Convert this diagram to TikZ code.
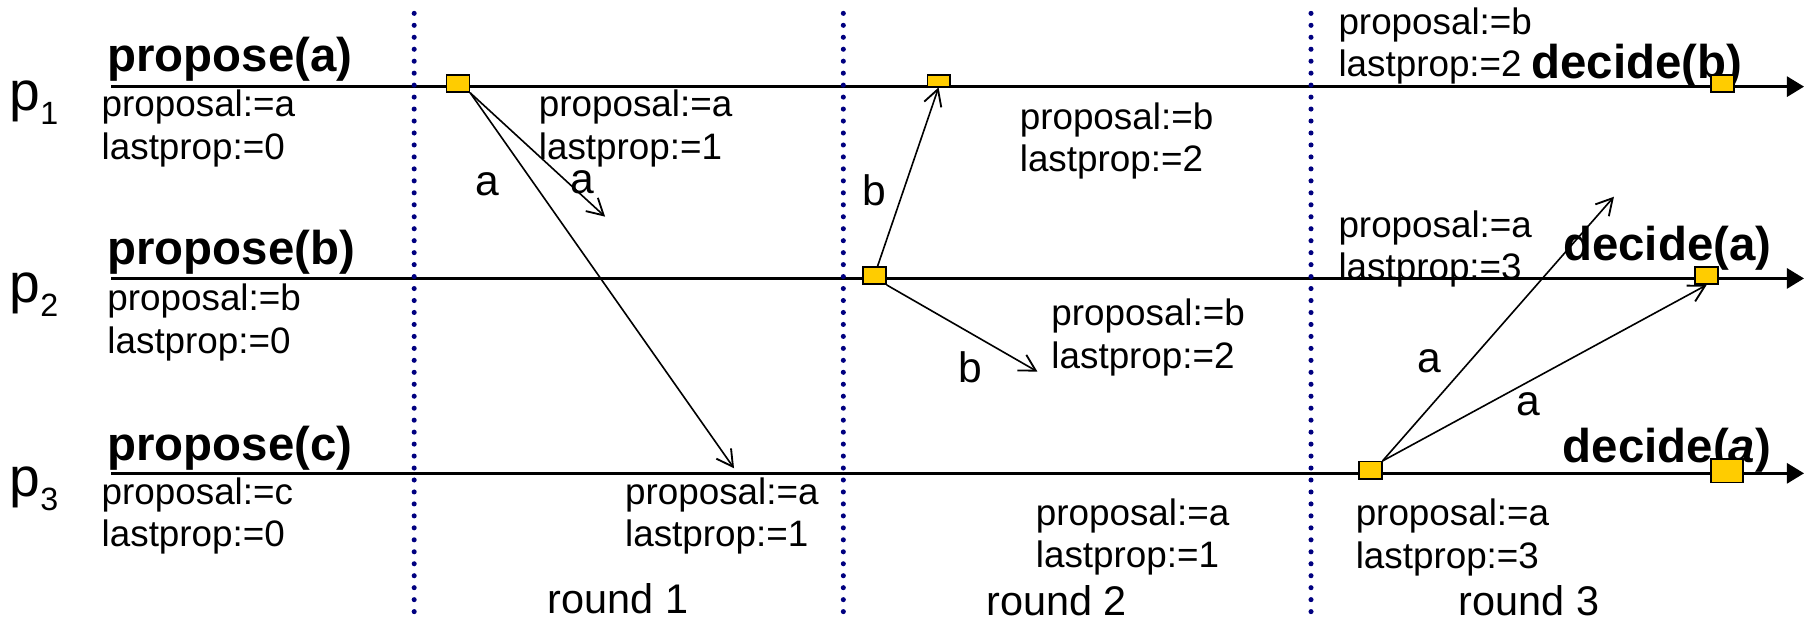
\documentclass[tikz,border=0pt]{standalone}
\usepackage{fontspec}
\setmainfont{Liberation Sans}
\usetikzlibrary{arrows.meta}
\definecolor{evtyellow}{HTML}{FFCC00}
\definecolor{sepblue}{HTML}{000080}
\begin{document}
\begin{tikzpicture}[x=0.5pt,y=-0.5pt,
  timeline/.style={line width=1.15pt,-{Triangle[length=7.4pt,width=8.7pt]}},
  roundsep/.style={sepblue,line width=2.2pt,line cap=round,dash pattern=on 0pt off 5.2pt},
  msg/.style={line width=0.7pt,-{Straight Barb[length=7pt,width=7.8pt,line width=0.8pt]}},
  evt/.style={draw=black,fill=evtyellow,line width=0.65pt,inner sep=0pt,minimum width=10pt,minimum height=7.5pt},
  state/.style={font=\fontsize{16}{18.4}\selectfont,align=left,inner sep=0pt,anchor=north west},
  act/.style={font=\fontsize{20.6}{24}\selectfont\bfseries,inner sep=0pt,anchor=base west},
  msglbl/.style={font=\fontsize{18.5}{20}\selectfont,inner sep=0pt},
  roundlbl/.style={font=\fontsize{18}{20}\selectfont,inner sep=0pt,anchor=base west},
  proclbl/.style={font=\fontsize{24}{24}\selectfont,inner sep=0pt,anchor=base west}]
\useasboundingbox (0,0) rectangle (1568,541);

% process timelines
\coordinate (s1) at (96.5,75.3);  \coordinate (t1) at (1568,75.3);
\coordinate (s2) at (96.5,242);   \coordinate (t2) at (1568,242);
\coordinate (s3) at (96.5,411.4); \coordinate (t3) at (1568,411.4);
\draw[timeline] (s1) -- (t1);
\draw[timeline] (s2) -- (t2);
\draw[timeline] (s3) -- (t3);

% round separators
\coordinate (r1a) at (360,11.6);    \coordinate (r1b) at (360,541);
\coordinate (r2a) at (733,11.6);    \coordinate (r2b) at (733,541);
\coordinate (r3a) at (1139.5,11.6); \coordinate (r3b) at (1139.5,541);
\draw[roundsep] (r1a) -- (r1b);
\draw[roundsep] (r2a) -- (r2b);
\draw[roundsep] (r3a) -- (r3b);

% process names
\node[proclbl] (p1) at (8,96) {p\raisebox{-6pt}{\fontsize{14}{14}\selectfont 1}};
\node[proclbl] (p2) at (8,263) {p\raisebox{-6pt}{\fontsize{14}{14}\selectfont 2}};
\node[proclbl] (p3) at (8,431.5) {p\raisebox{-6pt}{\fontsize{14}{14}\selectfont 3}};

% actions
\node[act] (pa) at (93,62) {propose(a)};
\node[act] (pb) at (93,230) {propose(b)};
\node[act] (pc) at (93,400) {propose(c)};
\node[act] (db) at (1330.6,68) {decide(b)};
\node[act] (da2) at (1358.3,226) {decide(a)};
\node[act] (da3) at (1358,402) {decide(\textit{a})};

% states
\node[state] (st1) at (88,78.1) {proposal:=a\\lastprop:=0};
\node[state] (st2) at (93,246.6) {proposal:=b\\lastprop:=0};
\node[state] (st3) at (88,414.6) {proposal:=c\\lastprop:=0};
\node[state] (st4) at (468,78.1) {proposal:=a\\lastprop:=1};
\node[state] (st5) at (543,414.6) {proposal:=a\\lastprop:=1};
\node[state] (st6) at (886,88.6) {proposal:=b\\lastprop:=2};
\node[state] (st7) at (913.5,259.6) {proposal:=b\\lastprop:=2};
\node[state] (st8) at (900,433.1) {proposal:=a\\lastprop:=1};
\node[state] (st9) at (1163,6.1) {proposal:=b\\lastprop:=2};
\node[state] (st10) at (1163,182.8) {proposal:=a\\lastprop:=3};
\node[state] (st11) at (1178,433.4) {proposal:=a\\lastprop:=3};

% round labels
\node[roundlbl] (rl1) at (475.6,533) {round 1};
\node[roundlbl] (rl2) at (857,534.6) {round 2};
\node[roundlbl] (rl3) at (1267.7,534.6) {round 3};

% events
\node[evt] (e1) at (398,72.5) {};
\node[evt,minimum height=5.15pt,minimum width=9.75pt] (e2) at (815.8,70.2) {};
\node[evt] (e3) at (760,239.5) {};
\node[evt] (e4) at (1497,72.5) {};
\node[evt] (e5) at (1483.4,239.5) {};
\node[evt] (e6) at (1191,408.8) {};
\node[evt,minimum width=14pt,minimum height=10.25pt] (e7) at (1501,409.3) {};

% messages
\coordinate (m1) at (525.9,188.3);
\coordinate (m2) at (638,407);
\coordinate (m4) at (901.7,323);
\coordinate (m5) at (1402.8,171);
\draw[msg] (e1.south east) -- (m1);
\draw[msg] (e1.south east) -- (m2);
\draw[msg] (e3) -- (e2.south);
\draw[msg] (e3.south east) -- (m4);
\draw[msg] (e6.north east) -- (m5);
\draw[msg] (e6.north east) -- (e5.south);

% message labels
\node[msglbl] (la1) at (424,160) {a};
\node[msglbl] (la2) at (506.3,158.6) {a};
\node[msglbl] (lb1) at (760,165) {b};
\node[msglbl] (lb2) at (843,318.8) {b};
\node[msglbl] (la3) at (1242,314) {a};
\node[msglbl] (la4) at (1328.5,351.3) {a};
\end{tikzpicture}
\end{document}
